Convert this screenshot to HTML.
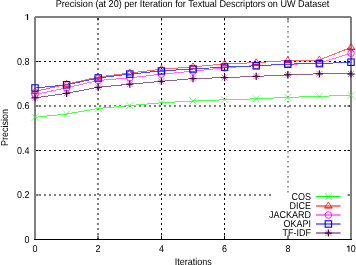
<!DOCTYPE html>
<html><head><meta charset="utf-8"><style>
html,body{margin:0;padding:0;background:#fff;}
svg{display:block;will-change:transform;}
text{font-family:"Liberation Sans",sans-serif;font-size:9.9px;fill:#000;text-rendering:geometricPrecision;}
</style></head><body>
<svg width="356" height="265" viewBox="0 0 356 265">
<line x1="98.0" y1="18" x2="98.0" y2="239" stroke="#000" stroke-width="1" stroke-dasharray="2,3"/>
<line x1="161.5" y1="18" x2="161.5" y2="239" stroke="#000" stroke-width="1" stroke-dasharray="2,3"/>
<line x1="224.5" y1="18" x2="224.5" y2="239" stroke="#000" stroke-width="1" stroke-dasharray="2,3"/>
<line x1="288.0" y1="16" x2="288.0" y2="192.5" stroke="#000" stroke-width="1" stroke-dasharray="1.6,3.4" opacity="0.8"/>
<line x1="34" y1="61.5" x2="350" y2="61.5" stroke="#000" stroke-width="1" stroke-dasharray="2,3"/>
<line x1="34" y1="106.0" x2="350" y2="106.0" stroke="#000" stroke-width="1" stroke-dasharray="2,3"/>
<line x1="34" y1="150.5" x2="350" y2="150.5" stroke="#000" stroke-width="1" stroke-dasharray="2,3"/>
<line x1="34" y1="195.0" x2="271.5" y2="195.0" stroke="#000" stroke-width="1" stroke-dasharray="2,3"/>
<line x1="35" y1="239.5" x2="38.5" y2="239.5" stroke="#000"/>
<line x1="347.5" y1="239.5" x2="351" y2="239.5" stroke="#000"/>
<line x1="35" y1="195.0" x2="38.5" y2="195.0" stroke="#000"/>
<line x1="347.5" y1="195.0" x2="351" y2="195.0" stroke="#000"/>
<line x1="35" y1="150.5" x2="38.5" y2="150.5" stroke="#000"/>
<line x1="347.5" y1="150.5" x2="351" y2="150.5" stroke="#000"/>
<line x1="35" y1="106.0" x2="38.5" y2="106.0" stroke="#000"/>
<line x1="347.5" y1="106.0" x2="351" y2="106.0" stroke="#000"/>
<line x1="35" y1="61.5" x2="38.5" y2="61.5" stroke="#000"/>
<line x1="347.5" y1="61.5" x2="351" y2="61.5" stroke="#000"/>
<line x1="35" y1="17.0" x2="38.5" y2="17.0" stroke="#000"/>
<line x1="347.5" y1="17.0" x2="351" y2="17.0" stroke="#000"/>
<line x1="35.0" y1="239.5" x2="35.0" y2="235.5" stroke="#000"/>
<line x1="35.0" y1="17" x2="35.0" y2="20.5" stroke="#000"/>
<line x1="98.0" y1="239.5" x2="98.0" y2="235.5" stroke="#000"/>
<line x1="98.0" y1="17" x2="98.0" y2="20.5" stroke="#000"/>
<line x1="161.5" y1="239.5" x2="161.5" y2="235.5" stroke="#000"/>
<line x1="161.5" y1="17" x2="161.5" y2="20.5" stroke="#000"/>
<line x1="224.5" y1="239.5" x2="224.5" y2="235.5" stroke="#000"/>
<line x1="224.5" y1="17" x2="224.5" y2="20.5" stroke="#000"/>
<line x1="288.0" y1="239.5" x2="288.0" y2="235.5" stroke="#000"/>
<line x1="288.0" y1="17" x2="288.0" y2="20.5" stroke="#000"/>
<line x1="351.0" y1="239.5" x2="351.0" y2="235.5" stroke="#000"/>
<line x1="351.0" y1="17" x2="351.0" y2="20.5" stroke="#000"/>
<path d="M35,17 L35,239.5 M35,17 L351,17 M351,17 L351,239.5" stroke="#808080" stroke-width="2" fill="none"/>
<path d="M34,239.5 L352,239.5" stroke="#000" stroke-width="1"/>
<polyline points="35.00,117.30 66.60,114.00 98.20,108.50 129.80,105.50 161.40,102.80 193.00,101.00 224.60,99.80 256.20,98.80 287.80,97.40 319.40,96.30 351.00,95.30" fill="none" stroke="#50ff50" stroke-width="1" shape-rendering="crispEdges"/>
<path d="M31.50,113.80L38.50,120.80M31.50,120.80L38.50,113.80" stroke="#00ff00" stroke-width="0.8" fill="none" opacity="0.7"/>
<path d="M63.10,110.50L70.10,117.50M63.10,117.50L70.10,110.50" stroke="#00ff00" stroke-width="0.8" fill="none" opacity="0.7"/>
<path d="M94.70,105.00L101.70,112.00M94.70,112.00L101.70,105.00" stroke="#00ff00" stroke-width="0.8" fill="none" opacity="0.7"/>
<path d="M126.30,102.00L133.30,109.00M126.30,109.00L133.30,102.00" stroke="#00ff00" stroke-width="0.8" fill="none" opacity="0.7"/>
<path d="M157.90,99.30L164.90,106.30M157.90,106.30L164.90,99.30" stroke="#00ff00" stroke-width="0.8" fill="none" opacity="0.7"/>
<path d="M189.50,97.50L196.50,104.50M189.50,104.50L196.50,97.50" stroke="#00ff00" stroke-width="0.8" fill="none" opacity="0.7"/>
<path d="M221.10,96.30L228.10,103.30M221.10,103.30L228.10,96.30" stroke="#00ff00" stroke-width="0.8" fill="none" opacity="0.7"/>
<path d="M252.70,95.30L259.70,102.30M252.70,102.30L259.70,95.30" stroke="#00ff00" stroke-width="0.8" fill="none" opacity="0.7"/>
<path d="M284.30,93.90L291.30,100.90M284.30,100.90L291.30,93.90" stroke="#00ff00" stroke-width="0.8" fill="none" opacity="0.7"/>
<path d="M315.90,92.80L322.90,99.80M315.90,99.80L322.90,92.80" stroke="#00ff00" stroke-width="0.8" fill="none" opacity="0.7"/>
<path d="M347.50,91.80L354.50,98.80M347.50,98.80L354.50,91.80" stroke="#00ff00" stroke-width="0.8" fill="none" opacity="0.7"/>
<polyline points="35.00,91.40 66.60,84.30 98.20,77.00 129.80,73.00 161.40,69.30 193.00,66.80 224.60,64.00 256.20,62.60 287.80,60.60 319.40,60.00 351.00,47.40" fill="none" stroke="#ff6868" stroke-width="1" shape-rendering="crispEdges"/>
<path d="M31.30,93.30L35.00,87.50L38.70,93.30" stroke="#ff0000" stroke-width="0.75" fill="none"/><path d="M31.10,93.30L38.90,93.30" stroke="#ff0000" stroke-width="1.3"/>
<path d="M62.90,86.20L66.60,80.40L70.30,86.20" stroke="#ff0000" stroke-width="0.75" fill="none"/><path d="M62.70,86.20L70.50,86.20" stroke="#ff0000" stroke-width="1.3"/>
<path d="M94.50,78.90L98.20,73.10L101.90,78.90" stroke="#ff0000" stroke-width="0.75" fill="none"/><path d="M94.30,78.90L102.10,78.90" stroke="#ff0000" stroke-width="1.3"/>
<path d="M126.10,74.90L129.80,69.10L133.50,74.90" stroke="#ff0000" stroke-width="0.75" fill="none"/><path d="M125.90,74.90L133.70,74.90" stroke="#ff0000" stroke-width="1.3"/>
<path d="M157.70,71.20L161.40,65.40L165.10,71.20" stroke="#ff0000" stroke-width="0.75" fill="none"/><path d="M157.50,71.20L165.30,71.20" stroke="#ff0000" stroke-width="1.3"/>
<path d="M189.30,68.70L193.00,62.90L196.70,68.70" stroke="#ff0000" stroke-width="0.75" fill="none"/><path d="M189.10,68.70L196.90,68.70" stroke="#ff0000" stroke-width="1.3"/>
<path d="M220.90,65.90L224.60,60.10L228.30,65.90" stroke="#ff0000" stroke-width="0.75" fill="none"/><path d="M220.70,65.90L228.50,65.90" stroke="#ff0000" stroke-width="1.3"/>
<path d="M252.50,64.50L256.20,58.70L259.90,64.50" stroke="#ff0000" stroke-width="0.75" fill="none"/><path d="M252.30,64.50L260.10,64.50" stroke="#ff0000" stroke-width="1.3"/>
<path d="M284.10,62.50L287.80,56.70L291.50,62.50" stroke="#ff0000" stroke-width="0.75" fill="none"/><path d="M283.90,62.50L291.70,62.50" stroke="#ff0000" stroke-width="1.3"/>
<path d="M315.70,61.90L319.40,56.10L323.10,61.90" stroke="#ff0000" stroke-width="0.75" fill="none"/><path d="M315.50,61.90L323.30,61.90" stroke="#ff0000" stroke-width="1.3"/>
<path d="M347.30,49.30L351.00,43.50L354.70,49.30" stroke="#ff0000" stroke-width="0.75" fill="none"/><path d="M347.10,49.30L354.90,49.30" stroke="#ff0000" stroke-width="1.3"/>
<polyline points="35.00,94.50 66.60,87.80 98.20,80.50 129.80,77.80 161.40,74.20 193.00,71.20 224.60,67.80 256.20,65.50 287.80,64.50 319.40,63.00 351.00,53.30" fill="none" stroke="#ff6cff" stroke-width="1" shape-rendering="crispEdges"/>
<circle cx="35.00" cy="94.50" r="3.3" stroke="#ff00ff" stroke-width="0.9" fill="none"/>
<circle cx="66.60" cy="87.80" r="3.3" stroke="#ff00ff" stroke-width="0.9" fill="none"/>
<circle cx="98.20" cy="80.50" r="3.3" stroke="#ff00ff" stroke-width="0.9" fill="none"/>
<circle cx="129.80" cy="77.80" r="3.3" stroke="#ff00ff" stroke-width="0.9" fill="none"/>
<circle cx="161.40" cy="74.20" r="3.3" stroke="#ff00ff" stroke-width="0.9" fill="none"/>
<circle cx="193.00" cy="71.20" r="3.3" stroke="#ff00ff" stroke-width="0.9" fill="none"/>
<circle cx="224.60" cy="67.80" r="3.3" stroke="#ff00ff" stroke-width="0.9" fill="none"/>
<circle cx="256.20" cy="65.50" r="3.3" stroke="#ff00ff" stroke-width="0.9" fill="none"/>
<circle cx="287.80" cy="64.50" r="3.3" stroke="#ff00ff" stroke-width="0.9" fill="none"/>
<circle cx="319.40" cy="63.00" r="3.3" stroke="#ff00ff" stroke-width="0.9" fill="none"/>
<circle cx="351.00" cy="53.30" r="3.3" stroke="#ff00ff" stroke-width="0.9" fill="none"/>
<polyline points="35.00,88.00 66.60,84.80 98.20,78.00 129.80,74.10 161.40,70.90 193.00,69.00 224.60,67.10 256.20,65.80 287.80,64.10 319.40,63.60 351.00,62.20" fill="none" stroke="#4c4cff" stroke-width="1" shape-rendering="crispEdges"/>
<rect x="31.80" y="84.80" width="6.4" height="6.4" stroke="#0000ff" stroke-width="1.1" fill="none"/>
<rect x="63.40" y="81.60" width="6.4" height="6.4" stroke="#0000ff" stroke-width="1.1" fill="none"/>
<rect x="95.00" y="74.80" width="6.4" height="6.4" stroke="#0000ff" stroke-width="1.1" fill="none"/>
<rect x="126.60" y="70.90" width="6.4" height="6.4" stroke="#0000ff" stroke-width="1.1" fill="none"/>
<rect x="158.20" y="67.70" width="6.4" height="6.4" stroke="#0000ff" stroke-width="1.1" fill="none"/>
<rect x="189.80" y="65.80" width="6.4" height="6.4" stroke="#0000ff" stroke-width="1.1" fill="none"/>
<rect x="221.40" y="63.90" width="6.4" height="6.4" stroke="#0000ff" stroke-width="1.1" fill="none"/>
<rect x="253.00" y="62.60" width="6.4" height="6.4" stroke="#0000ff" stroke-width="1.1" fill="none"/>
<rect x="284.60" y="60.90" width="6.4" height="6.4" stroke="#0000ff" stroke-width="1.1" fill="none"/>
<rect x="316.20" y="60.40" width="6.4" height="6.4" stroke="#0000ff" stroke-width="1.1" fill="none"/>
<rect x="347.80" y="59.00" width="6.4" height="6.4" stroke="#0000ff" stroke-width="1.1" fill="none"/>
<polyline points="35.00,97.80 66.60,93.30 98.20,87.30 129.80,84.20 161.40,81.30 193.00,78.60 224.60,77.60 256.20,76.40 287.80,74.80 319.40,73.80 351.00,74.00" fill="none" stroke="#8a628a" stroke-width="1" shape-rendering="crispEdges"/>
<path d="M32.00,94.80L38.00,100.80M32.00,100.80L38.00,94.80" stroke="#500050" stroke-width="0.8" opacity="0.55"/><path d="M35.00,94.20L35.00,101.40M31.40,97.80L38.60,97.80" stroke="#500050" stroke-width="1.25"/>
<path d="M63.60,90.30L69.60,96.30M63.60,96.30L69.60,90.30" stroke="#500050" stroke-width="0.8" opacity="0.55"/><path d="M66.60,89.70L66.60,96.90M63.00,93.30L70.20,93.30" stroke="#500050" stroke-width="1.25"/>
<path d="M95.20,84.30L101.20,90.30M95.20,90.30L101.20,84.30" stroke="#500050" stroke-width="0.8" opacity="0.55"/><path d="M98.20,83.70L98.20,90.90M94.60,87.30L101.80,87.30" stroke="#500050" stroke-width="1.25"/>
<path d="M126.80,81.20L132.80,87.20M126.80,87.20L132.80,81.20" stroke="#500050" stroke-width="0.8" opacity="0.55"/><path d="M129.80,80.60L129.80,87.80M126.20,84.20L133.40,84.20" stroke="#500050" stroke-width="1.25"/>
<path d="M158.40,78.30L164.40,84.30M158.40,84.30L164.40,78.30" stroke="#500050" stroke-width="0.8" opacity="0.55"/><path d="M161.40,77.70L161.40,84.90M157.80,81.30L165.00,81.30" stroke="#500050" stroke-width="1.25"/>
<path d="M190.00,75.60L196.00,81.60M190.00,81.60L196.00,75.60" stroke="#500050" stroke-width="0.8" opacity="0.55"/><path d="M193.00,75.00L193.00,82.20M189.40,78.60L196.60,78.60" stroke="#500050" stroke-width="1.25"/>
<path d="M221.60,74.60L227.60,80.60M221.60,80.60L227.60,74.60" stroke="#500050" stroke-width="0.8" opacity="0.55"/><path d="M224.60,74.00L224.60,81.20M221.00,77.60L228.20,77.60" stroke="#500050" stroke-width="1.25"/>
<path d="M253.20,73.40L259.20,79.40M253.20,79.40L259.20,73.40" stroke="#500050" stroke-width="0.8" opacity="0.55"/><path d="M256.20,72.80L256.20,80.00M252.60,76.40L259.80,76.40" stroke="#500050" stroke-width="1.25"/>
<path d="M284.80,71.80L290.80,77.80M284.80,77.80L290.80,71.80" stroke="#500050" stroke-width="0.8" opacity="0.55"/><path d="M287.80,71.20L287.80,78.40M284.20,74.80L291.40,74.80" stroke="#500050" stroke-width="1.25"/>
<path d="M316.40,70.80L322.40,76.80M316.40,76.80L322.40,70.80" stroke="#500050" stroke-width="0.8" opacity="0.55"/><path d="M319.40,70.20L319.40,77.40M315.80,73.80L323.00,73.80" stroke="#500050" stroke-width="1.25"/>
<path d="M348.00,71.00L354.00,77.00M348.00,77.00L354.00,71.00" stroke="#500050" stroke-width="0.8" opacity="0.55"/><path d="M351.00,70.40L351.00,77.60M347.40,74.00L354.60,74.00" stroke="#500050" stroke-width="1.25"/>
<line x1="316" y1="196.5" x2="340.6" y2="196.5" stroke="#00ff00" stroke-width="1"/>
<path d="M324.90,193.00L331.90,200.00M324.90,200.00L331.90,193.00" stroke="#00ff00" stroke-width="0.8" fill="none" opacity="0.7"/>
<text transform="translate(311.00,200.00) scale(0.9091,1)" text-anchor="end">COS</text>
<line x1="316" y1="206.0" x2="340.6" y2="206.0" stroke="#ff0000" stroke-width="1"/>
<path d="M324.70,207.90L328.40,202.10L332.10,207.90" stroke="#ff0000" stroke-width="0.75" fill="none"/><path d="M324.50,207.90L332.30,207.90" stroke="#ff0000" stroke-width="1.3"/>
<text transform="translate(311.00,209.00) scale(0.9091,1)" text-anchor="end">DICE</text>
<line x1="316" y1="215.0" x2="340.6" y2="215.0" stroke="#ff00ff" stroke-width="1"/>
<circle cx="328.40" cy="215.00" r="3.3" stroke="#ff00ff" stroke-width="0.9" fill="none"/>
<text transform="translate(311.00,218.00) scale(0.9091,1)" text-anchor="end">JACKARD</text>
<line x1="316" y1="224.0" x2="340.6" y2="224.0" stroke="#0000ff" stroke-width="1"/>
<rect x="325.20" y="220.80" width="6.4" height="6.4" stroke="#0000ff" stroke-width="1.1" fill="none"/>
<text transform="translate(311.00,227.00) scale(0.9091,1)" text-anchor="end">OKAPI</text>
<line x1="316" y1="233.0" x2="340.6" y2="233.0" stroke="#600060" stroke-width="1"/>
<path d="M325.40,230.00L331.40,236.00M325.40,236.00L331.40,230.00" stroke="#500050" stroke-width="0.8" opacity="0.55"/><path d="M328.40,229.40L328.40,236.60M324.80,233.00L332.00,233.00" stroke="#500050" stroke-width="1.25"/>
<text transform="translate(311.00,236.00) scale(0.9091,1)" text-anchor="end">TF-IDF</text>
<text transform="translate(29.40,242.90) scale(0.9091,1)" text-anchor="end">0</text>
<text transform="translate(29.40,198.40) scale(0.9091,1)" text-anchor="end">0.2</text>
<text transform="translate(29.40,153.90) scale(0.9091,1)" text-anchor="end">0.4</text>
<text transform="translate(29.40,109.40) scale(0.9091,1)" text-anchor="end">0.6</text>
<text transform="translate(29.40,64.90) scale(0.9091,1)" text-anchor="end">0.8</text>
<text transform="translate(35.00,252.00) scale(0.9091,1)" text-anchor="middle">0</text>
<text transform="translate(98.00,252.00) scale(0.9091,1)" text-anchor="middle">2</text>
<text transform="translate(161.50,252.00) scale(0.9091,1)" text-anchor="middle">4</text>
<text transform="translate(224.50,252.00) scale(0.9091,1)" text-anchor="middle">6</text>
<text transform="translate(288.00,252.00) scale(0.9091,1)" text-anchor="middle">8</text>
<rect x="26.95" y="14.2" width="1.15" height="5.8" fill="#000"/>
<path d="M24.9,15.6 L27.3,14.5" stroke="#000" stroke-width="1" opacity="0.55"/>
<rect x="348.3" y="245.7" width="1.25" height="6.0" fill="#000" opacity="0.8"/>
<path d="M346.9,246.9 L348.9,245.9" stroke="#000" stroke-width="1.1" opacity="0.85"/>
<text transform="translate(350.75,252.00) scale(0.9091,1)" text-anchor="start">0</text>
<text transform="translate(193.30,265.00) scale(0.9091,1)" text-anchor="middle">Iterations</text>
<text transform="translate(7.5,127.5) rotate(-90) scale(0.9090909090909091,1)" text-anchor="middle">Precision</text>
<text transform="translate(192.50,7.10) scale(0.9191,1)" text-anchor="middle">Precision (at 20) per Iteration for Textual Descriptors on UW Dataset</text>
</svg>
</body></html>
